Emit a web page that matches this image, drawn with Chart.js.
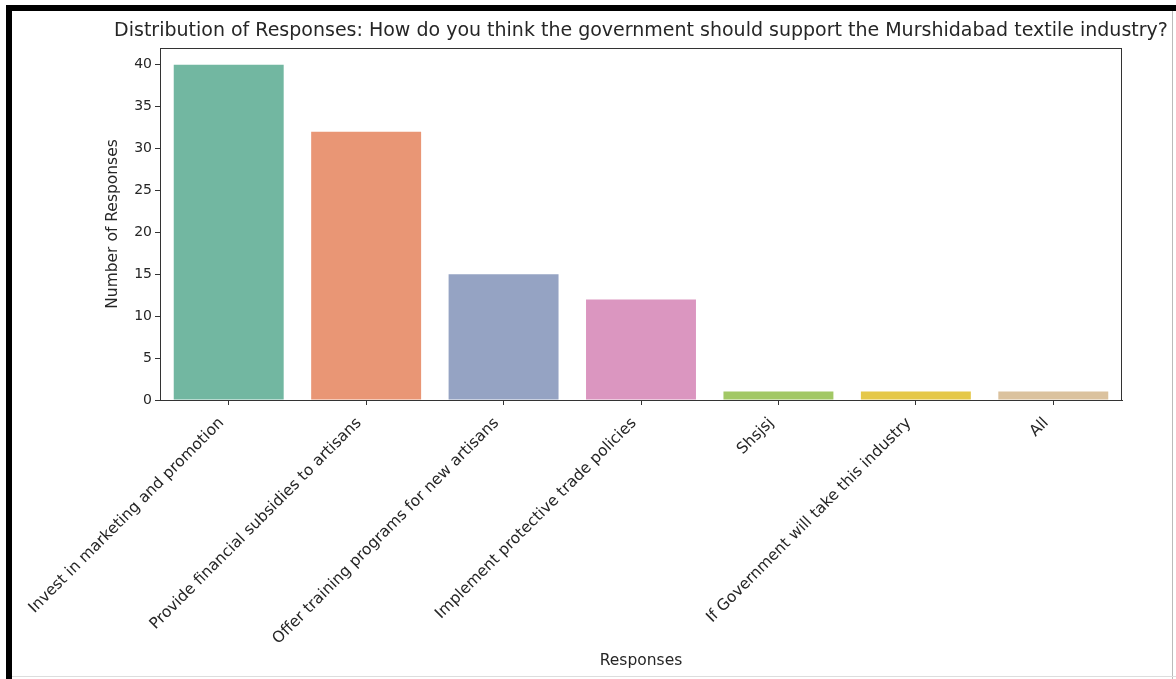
<!DOCTYPE html>
<html>
<head>
<meta charset="utf-8">
<script src="https://cdn.jsdelivr.net/npm/chart.js@4"></script>
<style>
  html, body { margin: 0; padding: 0; background: #fff; }
  #wrap { position: relative; width: 1176px; height: 679px; overflow: hidden; }
  #chart { position: absolute; left: 0; top: 0; }
  .edge { position: absolute; }
</style>
</head>
<body>
<div id="wrap">
  <canvas id="chart" width="1176" height="679"></canvas>
  <div class="edge" style="left:6px;top:5px;width:1170px;height:6px;background:#000"></div>
  <div class="edge" style="left:6px;top:5px;width:6px;height:674px;background:#000"></div>
  <div class="edge" style="left:1172px;top:11px;width:1px;height:668px;background:#bbb"></div>
  <div class="edge" style="left:12px;top:676px;width:1164px;height:1px;background:#ddd"></div>
</div>
<script>
var labels = [
  'Invest in marketing and promotion',
  'Provide financial subsidies to artisans',
  'Offer training programs for new artisans',
  'Implement protective trade policies',
  'Shsjsj',
  'If Government will take this industry',
  'All'
];
var counts = [40, 32, 15, 12, 1, 1, 1];
var barColors = ['#72b7a1', '#e99675', '#95a3c3', '#db96c0', '#a2c865', '#e5c849', '#dbc29e'];
var yTicks = [0, 5, 10, 15, 20, 25, 30, 35, 40];
var chartTitle = 'Distribution of Responses: How do you think the government should support the Murshidabad textile industry?';

var textColor = '#262626';
var spineColor = '#333';

// full box around the plot area, like the matplotlib spines
var spines = {
  id: 'spines',
  afterDraw: function(chart) {
    var a = chart.chartArea;
    var c = chart.ctx;
    c.save();
    c.strokeStyle = spineColor;
    c.lineWidth = 1;
    c.strokeRect(a.left + 0.5, a.top + 0.5, a.right - a.left - 1, a.bottom - a.top);
    c.restore();
  }
};

// title centred over the plot area, allowed to run wider than it (the built-in one squeezes)
var wideTitle = {
  id: 'wideTitle',
  afterDraw: function(chart) {
    var a = chart.chartArea;
    var c = chart.ctx;
    c.save();
    c.fillStyle = textColor;
    c.font = '19px "DejaVu Sans"';
    c.textAlign = 'center';
    c.textBaseline = 'middle';
    c.fillText(chartTitle, (a.left + a.right) / 2, a.top - 17);
    c.restore();
  }
};

new Chart(document.getElementById('chart').getContext('2d'), {
  type: 'bar',
  data: {
    labels: labels,
    datasets: [{
      data: counts,
      backgroundColor: barColors,
      borderWidth: 0,
      categoryPercentage: 0.8,
      barPercentage: 1.0
    }]
  },
  options: {
    responsive: false,
    animation: false,
    layout: { padding: { left: 100, right: 54, top: 48, bottom: 5 } },
    plugins: {
      legend: { display: false },
      tooltip: { enabled: false },
      title: { display: false }
    },
    scales: {
      x: {
        offset: true,
        grid: { display: true, drawOnChartArea: false, drawTicks: true, tickLength: 5, color: spineColor, offset: false },
        border: { display: true, color: spineColor },
        ticks: {
          color: textColor,
          font: { family: 'DejaVu Sans', size: 15.5 },
          minRotation: 45,
          maxRotation: 45,
          autoSkip: false,
          padding: 9,
          labelOffset: -7
        },
        title: {
          display: true,
          text: 'Responses',
          color: textColor,
          font: { family: 'DejaVu Sans', size: 15.5 },
          padding: { top: 4, bottom: 4 }
        },
        afterFit: function(s) { s.height = 274; }
      },
      y: {
        min: 0,
        max: 42,
        grid: { display: true, drawOnChartArea: false, drawTicks: true, tickLength: 5, color: spineColor },
        border: { display: true, color: spineColor },
        ticks: {
          color: textColor,
          font: { family: 'DejaVu Sans', size: 14 },
          stepSize: 5,
          includeBounds: false,
          padding: 3
        },
        afterBuildTicks: function(s) {
          s.ticks = yTicks.map(function(v) { return { value: v }; });
        },
        title: {
          display: true,
          text: 'Number of Responses',
          color: textColor,
          font: { family: 'DejaVu Sans', size: 15.5 },
          padding: { top: 4, bottom: 4 }
        },
        afterFit: function(s) { s.width = 60; }
      }
    }
  },
  plugins: [spines, wideTitle]
});
</script>
</body>
</html>
